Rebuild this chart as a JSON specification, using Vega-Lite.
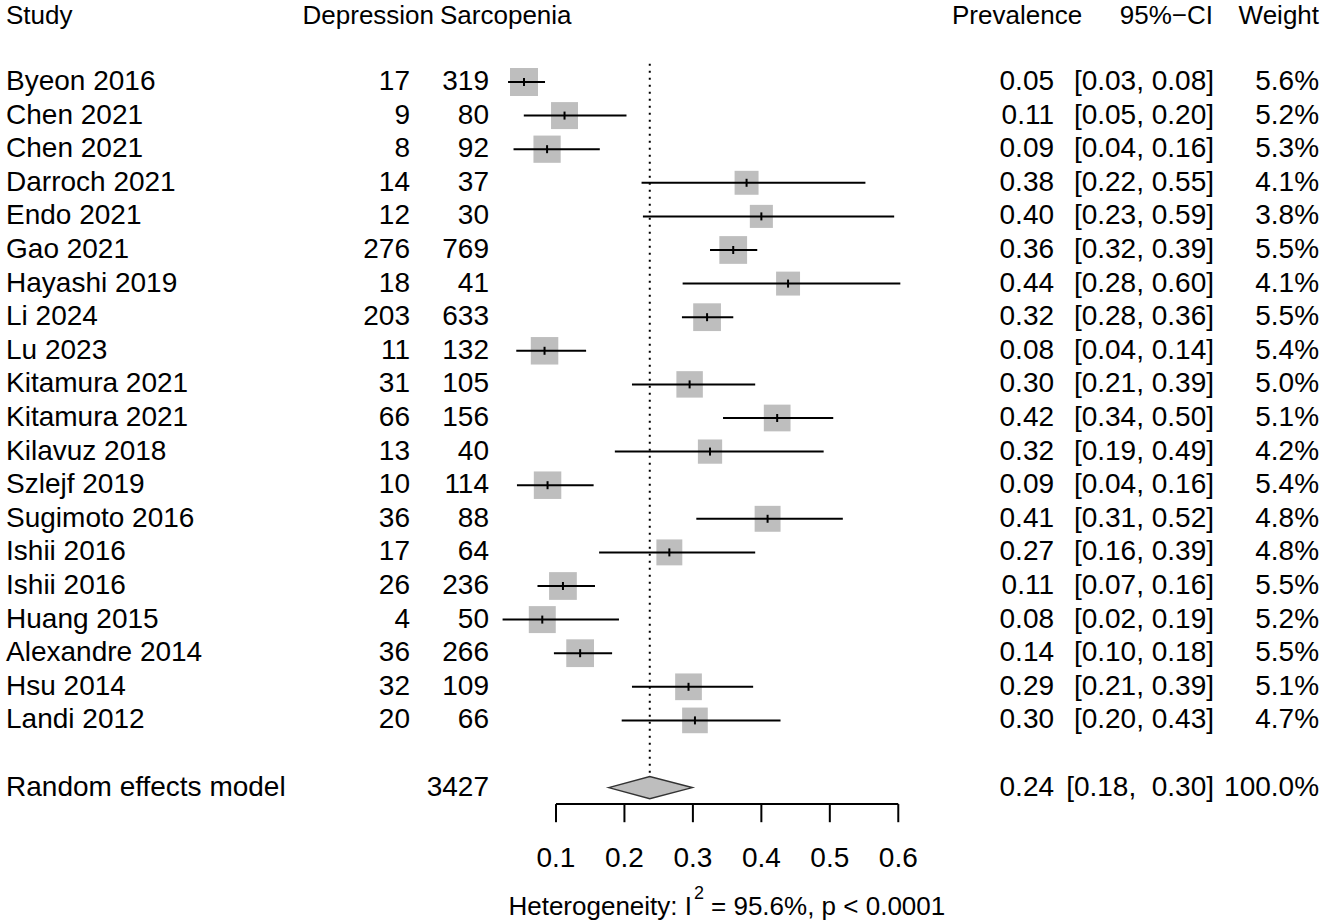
{
  "$schema": "https://vega.github.io/schema/vega-lite/v6.json",
  "width": 1325,
  "height": 804,
  "autosize": {"type": "none"},
  "padding": {"left": 0, "top": 0, "right": 0, "bottom": 119},
  "background": "white",
  "config": {
    "view": {"stroke": null},
    "text": {"font": "Liberation Sans", "fontSize": 28, "color": "black", "baseline": "middle"}
  },
  "datasets": {
    "studies": [
      {"row": 1, "study": "Byeon 2016", "dep": "17", "sarc": "319", "prev": "0.05", "ci": "[0.03, 0.08]", "wt": "5.6%", "est": 0.0533, "lo": 0.03, "hi": 0.084, "w": 5.6},
      {"row": 2, "study": "Chen 2021", "dep": "9", "sarc": "80", "prev": "0.11", "ci": "[0.05, 0.20]", "wt": "5.2%", "est": 0.1125, "lo": 0.053, "hi": 0.203, "w": 5.2},
      {"row": 3, "study": "Chen 2021", "dep": "8", "sarc": "92", "prev": "0.09", "ci": "[0.04, 0.16]", "wt": "5.3%", "est": 0.087, "lo": 0.038, "hi": 0.164, "w": 5.3},
      {"row": 4, "study": "Darroch 2021", "dep": "14", "sarc": "37", "prev": "0.38", "ci": "[0.22, 0.55]", "wt": "4.1%", "est": 0.3784, "lo": 0.225, "hi": 0.552, "w": 4.1},
      {"row": 5, "study": "Endo 2021", "dep": "12", "sarc": "30", "prev": "0.40", "ci": "[0.23, 0.59]", "wt": "3.8%", "est": 0.4, "lo": 0.227, "hi": 0.594, "w": 3.8},
      {"row": 6, "study": "Gao 2021", "dep": "276", "sarc": "769", "prev": "0.36", "ci": "[0.32, 0.39]", "wt": "5.5%", "est": 0.3589, "lo": 0.325, "hi": 0.394, "w": 5.5},
      {"row": 7, "study": "Hayashi 2019", "dep": "18", "sarc": "41", "prev": "0.44", "ci": "[0.28, 0.60]", "wt": "4.1%", "est": 0.439, "lo": 0.285, "hi": 0.603, "w": 4.1},
      {"row": 8, "study": "Li 2024", "dep": "203", "sarc": "633", "prev": "0.32", "ci": "[0.28, 0.36]", "wt": "5.5%", "est": 0.3207, "lo": 0.284, "hi": 0.359, "w": 5.5},
      {"row": 9, "study": "Lu 2023", "dep": "11", "sarc": "132", "prev": "0.08", "ci": "[0.04, 0.14]", "wt": "5.4%", "est": 0.0833, "lo": 0.042, "hi": 0.144, "w": 5.4},
      {"row": 10, "study": "Kitamura 2021", "dep": "31", "sarc": "105", "prev": "0.30", "ci": "[0.21, 0.39]", "wt": "5.0%", "est": 0.2952, "lo": 0.211, "hi": 0.391, "w": 5.0},
      {"row": 11, "study": "Kitamura 2021", "dep": "66", "sarc": "156", "prev": "0.42", "ci": "[0.34, 0.50]", "wt": "5.1%", "est": 0.4231, "lo": 0.344, "hi": 0.505, "w": 5.1},
      {"row": 12, "study": "Kilavuz 2018", "dep": "13", "sarc": "40", "prev": "0.32", "ci": "[0.19, 0.49]", "wt": "4.2%", "est": 0.325, "lo": 0.186, "hi": 0.491, "w": 4.2},
      {"row": 13, "study": "Szlejf 2019", "dep": "10", "sarc": "114", "prev": "0.09", "ci": "[0.04, 0.16]", "wt": "5.4%", "est": 0.0877, "lo": 0.043, "hi": 0.155, "w": 5.4},
      {"row": 14, "study": "Sugimoto 2016", "dep": "36", "sarc": "88", "prev": "0.41", "ci": "[0.31, 0.52]", "wt": "4.8%", "est": 0.4091, "lo": 0.305, "hi": 0.519, "w": 4.8},
      {"row": 15, "study": "Ishii 2016", "dep": "17", "sarc": "64", "prev": "0.27", "ci": "[0.16, 0.39]", "wt": "4.8%", "est": 0.2656, "lo": 0.163, "hi": 0.391, "w": 4.8},
      {"row": 16, "study": "Ishii 2016", "dep": "26", "sarc": "236", "prev": "0.11", "ci": "[0.07, 0.16]", "wt": "5.5%", "est": 0.1102, "lo": 0.073, "hi": 0.157, "w": 5.5},
      {"row": 17, "study": "Huang 2015", "dep": "4", "sarc": "50", "prev": "0.08", "ci": "[0.02, 0.19]", "wt": "5.2%", "est": 0.08, "lo": 0.022, "hi": 0.192, "w": 5.2},
      {"row": 18, "study": "Alexandre 2014", "dep": "36", "sarc": "266", "prev": "0.14", "ci": "[0.10, 0.18]", "wt": "5.5%", "est": 0.1353, "lo": 0.097, "hi": 0.182, "w": 5.5},
      {"row": 19, "study": "Hsu 2014", "dep": "32", "sarc": "109", "prev": "0.29", "ci": "[0.21, 0.39]", "wt": "5.1%", "est": 0.2936, "lo": 0.211, "hi": 0.388, "w": 5.1},
      {"row": 20, "study": "Landi 2012", "dep": "20", "sarc": "66", "prev": "0.30", "ci": "[0.20, 0.43]", "wt": "4.7%", "est": 0.303, "lo": 0.196, "hi": 0.428, "w": 4.7}
    ],
    "pooled": [
      {"row": 22, "study": "Random effects model", "sarc": "3427", "prev": "0.24", "ci": "[0.18, \u00a00.30]", "wt": "100.0%"}
    ],
    "header": [
      {"row": -0.96, "study": "Study", "dep": "Depression", "sarc": "Sarcopenia", "prev": "Prevalence", "ci": "95%\u2212CI", "wt": "Weight"}
    ],
    "diamond": [
      {"x": 0.177, "top": 22, "bot": 22},
      {"x": 0.237, "top": 21.67, "bot": 22.33},
      {"x": 0.299, "top": 22, "bot": 22}
    ],
    "refline": [{"x": 0.237, "y1": 0.46, "y2": 21.67}],
    "axisline": [{"a": 0.1, "b": 0.6, "y": 22.49}],
    "axisticks": [
      {"v": 0.1, "lab": "0.1", "y1": 22.49, "y2": 23.03, "ly": 24.11},
      {"v": 0.2, "lab": "0.2", "y1": 22.49, "y2": 23.03, "ly": 24.11},
      {"v": 0.3, "lab": "0.3", "y1": 22.49, "y2": 23.03, "ly": 24.11},
      {"v": 0.4, "lab": "0.4", "y1": 22.49, "y2": 23.03, "ly": 24.11},
      {"v": 0.5, "lab": "0.5", "y1": 22.49, "y2": 23.03, "ly": 24.11},
      {"v": 0.6, "lab": "0.6", "y1": 22.49, "y2": 23.03, "ly": 24.11}
    ],
    "het": [{"row": 25.55, "suprow": 25.17, "a": "Heterogeneity: I", "b": "2", "c": "= 95.6%, p < 0.0001"}]
  },
  "layer": [
    {
      "data": {"name": "axisline"},
      "mark": {"type": "rule", "color": "black", "strokeWidth": 2},
      "encoding": {
        "x": {"field": "a", "type": "quantitative", "scale": {"domain": [-0.7121, 1.2233], "nice": false, "zero": false}, "axis": null},
        "x2": {"field": "b"},
        "y": {"field": "y", "type": "quantitative", "scale": {"domain": [-1.44, 22.488], "nice": false, "zero": false, "reverse": true}, "axis": null}
      }
    },
    {
      "data": {"name": "axisticks"},
      "mark": {"type": "rule", "color": "black", "strokeWidth": 2},
      "encoding": {
        "x": {"field": "v", "type": "quantitative", "scale": {"domain": [-0.7121, 1.2233], "nice": false, "zero": false}, "axis": null},
        "y": {"field": "y1", "type": "quantitative", "scale": {"domain": [-1.44, 22.488], "nice": false, "zero": false, "reverse": true}, "axis": null},
        "y2": {"field": "y2"}
      }
    },
    {
      "data": {"name": "axisticks"},
      "mark": {"type": "text", "align": "center", "fontSize": 28},
      "encoding": {
        "x": {"field": "v", "type": "quantitative", "scale": {"domain": [-0.7121, 1.2233], "nice": false, "zero": false}, "axis": null},
        "y": {"field": "ly", "type": "quantitative", "scale": {"domain": [-1.44, 22.488], "nice": false, "zero": false, "reverse": true}, "axis": null},
        "text": {"field": "lab"}
      }
    },
    {
      "data": {"name": "refline"},
      "mark": {"type": "rule", "color": "black", "strokeWidth": 2, "strokeDash": [2, 5]},
      "encoding": {
        "x": {"field": "x", "type": "quantitative", "scale": {"domain": [-0.7121, 1.2233], "nice": false, "zero": false}, "axis": null},
        "y": {"field": "y1", "type": "quantitative", "scale": {"domain": [-1.44, 22.488], "nice": false, "zero": false, "reverse": true}, "axis": null},
        "y2": {"field": "y2"}
      }
    },
    {
      "data": {"name": "studies"},
      "mark": {"type": "point", "shape": "square", "filled": true, "color": "#bebebe", "opacity": 1, "strokeWidth": 0},
      "encoding": {
        "x": {"field": "est", "type": "quantitative", "scale": {"domain": [-0.7121, 1.2233], "nice": false, "zero": false}, "axis": null},
        "y": {"field": "row", "type": "quantitative", "scale": {"domain": [-1.44, 22.488], "nice": false, "zero": false, "reverse": true}, "axis": null},
        "size": {"field": "w", "type": "quantitative", "scale": {"type": "linear", "domain": [0, 10], "range": [0, 1400], "zero": true}, "legend": null}
      }
    },
    {
      "data": {"name": "studies"},
      "mark": {"type": "rule", "color": "black", "strokeWidth": 2},
      "encoding": {
        "x": {"field": "lo", "type": "quantitative", "scale": {"domain": [-0.7121, 1.2233], "nice": false, "zero": false}, "axis": null},
        "x2": {"field": "hi"},
        "y": {"field": "row", "type": "quantitative", "scale": {"domain": [-1.44, 22.488], "nice": false, "zero": false, "reverse": true}, "axis": null}
      }
    },
    {
      "data": {"name": "studies"},
      "mark": {"type": "tick", "orient": "vertical", "color": "black", "size": 8, "thickness": 2, "opacity": 1},
      "encoding": {
        "x": {"field": "est", "type": "quantitative", "scale": {"domain": [-0.7121, 1.2233], "nice": false, "zero": false}, "axis": null},
        "y": {"field": "row", "type": "quantitative", "scale": {"domain": [-1.44, 22.488], "nice": false, "zero": false, "reverse": true}, "axis": null}
      }
    },
    {
      "data": {"name": "diamond"},
      "mark": {"type": "area", "color": "#bebebe", "fill": "#bebebe", "stroke": "#333333", "strokeWidth": 1.5, "opacity": 1, "fillOpacity": 1},
      "encoding": {
        "x": {"field": "x", "type": "quantitative", "scale": {"domain": [-0.7121, 1.2233], "nice": false, "zero": false}, "axis": null},
        "y": {"field": "top", "type": "quantitative", "scale": {"domain": [-1.44, 22.488], "nice": false, "zero": false, "reverse": true}, "axis": null},
        "y2": {"field": "bot"}
      }
    },
    {
      "data": {"name": "studies"},
      "layer": [
        {"mark": {"type": "text", "align": "left"}, "encoding": {"x": {"datum": -0.7033, "type": "quantitative", "scale": {"domain": [-0.7121, 1.2233], "nice": false, "zero": false}, "axis": null}, "y": {"field": "row", "type": "quantitative", "scale": {"domain": [-1.44, 22.488], "nice": false, "zero": false, "reverse": true}, "axis": null}, "text": {"field": "study"}}},
        {"mark": {"type": "text", "align": "right"}, "encoding": {"x": {"datum": -0.1132, "type": "quantitative", "scale": {"domain": [-0.7121, 1.2233], "nice": false, "zero": false}, "axis": null}, "y": {"field": "row", "type": "quantitative", "scale": {"domain": [-1.44, 22.488], "nice": false, "zero": false, "reverse": true}, "axis": null}, "text": {"field": "dep"}}},
        {"mark": {"type": "text", "align": "right"}, "encoding": {"x": {"datum": 0.0022, "type": "quantitative", "scale": {"domain": [-0.7121, 1.2233], "nice": false, "zero": false}, "axis": null}, "y": {"field": "row", "type": "quantitative", "scale": {"domain": [-1.44, 22.488], "nice": false, "zero": false, "reverse": true}, "axis": null}, "text": {"field": "sarc"}}},
        {"mark": {"type": "text", "align": "right"}, "encoding": {"x": {"datum": 0.8275, "type": "quantitative", "scale": {"domain": [-0.7121, 1.2233], "nice": false, "zero": false}, "axis": null}, "y": {"field": "row", "type": "quantitative", "scale": {"domain": [-1.44, 22.488], "nice": false, "zero": false, "reverse": true}, "axis": null}, "text": {"field": "prev"}}},
        {"mark": {"type": "text", "align": "right"}, "encoding": {"x": {"datum": 1.0612, "type": "quantitative", "scale": {"domain": [-0.7121, 1.2233], "nice": false, "zero": false}, "axis": null}, "y": {"field": "row", "type": "quantitative", "scale": {"domain": [-1.44, 22.488], "nice": false, "zero": false, "reverse": true}, "axis": null}, "text": {"field": "ci"}}},
        {"mark": {"type": "text", "align": "right"}, "encoding": {"x": {"datum": 1.2146, "type": "quantitative", "scale": {"domain": [-0.7121, 1.2233], "nice": false, "zero": false}, "axis": null}, "y": {"field": "row", "type": "quantitative", "scale": {"domain": [-1.44, 22.488], "nice": false, "zero": false, "reverse": true}, "axis": null}, "text": {"field": "wt"}}}
      ]
    },
    {
      "data": {"name": "pooled"},
      "layer": [
        {"mark": {"type": "text", "align": "left"}, "encoding": {"x": {"datum": -0.7033, "type": "quantitative", "scale": {"domain": [-0.7121, 1.2233], "nice": false, "zero": false}, "axis": null}, "y": {"field": "row", "type": "quantitative", "scale": {"domain": [-1.44, 22.488], "nice": false, "zero": false, "reverse": true}, "axis": null}, "text": {"field": "study"}}},
        {"mark": {"type": "text", "align": "right"}, "encoding": {"x": {"datum": 0.0022, "type": "quantitative", "scale": {"domain": [-0.7121, 1.2233], "nice": false, "zero": false}, "axis": null}, "y": {"field": "row", "type": "quantitative", "scale": {"domain": [-1.44, 22.488], "nice": false, "zero": false, "reverse": true}, "axis": null}, "text": {"field": "sarc"}}},
        {"mark": {"type": "text", "align": "right"}, "encoding": {"x": {"datum": 0.8275, "type": "quantitative", "scale": {"domain": [-0.7121, 1.2233], "nice": false, "zero": false}, "axis": null}, "y": {"field": "row", "type": "quantitative", "scale": {"domain": [-1.44, 22.488], "nice": false, "zero": false, "reverse": true}, "axis": null}, "text": {"field": "prev"}}},
        {"mark": {"type": "text", "align": "right"}, "encoding": {"x": {"datum": 1.0612, "type": "quantitative", "scale": {"domain": [-0.7121, 1.2233], "nice": false, "zero": false}, "axis": null}, "y": {"field": "row", "type": "quantitative", "scale": {"domain": [-1.44, 22.488], "nice": false, "zero": false, "reverse": true}, "axis": null}, "text": {"field": "ci"}}},
        {"mark": {"type": "text", "align": "right"}, "encoding": {"x": {"datum": 1.2146, "type": "quantitative", "scale": {"domain": [-0.7121, 1.2233], "nice": false, "zero": false}, "axis": null}, "y": {"field": "row", "type": "quantitative", "scale": {"domain": [-1.44, 22.488], "nice": false, "zero": false, "reverse": true}, "axis": null}, "text": {"field": "wt"}}}
      ]
    },
    {
      "data": {"name": "header"},
      "layer": [
        {"mark": {"type": "text", "align": "left", "fontSize": 26}, "encoding": {"x": {"datum": -0.7033, "type": "quantitative", "scale": {"domain": [-0.7121, 1.2233], "nice": false, "zero": false}, "axis": null}, "y": {"field": "row", "type": "quantitative", "scale": {"domain": [-1.44, 22.488], "nice": false, "zero": false, "reverse": true}, "axis": null}, "text": {"field": "study"}}},
        {"mark": {"type": "text", "align": "right", "fontSize": 26}, "encoding": {"x": {"datum": -0.0781, "type": "quantitative", "scale": {"domain": [-0.7121, 1.2233], "nice": false, "zero": false}, "axis": null}, "y": {"field": "row", "type": "quantitative", "scale": {"domain": [-1.44, 22.488], "nice": false, "zero": false, "reverse": true}, "axis": null}, "text": {"field": "dep"}}},
        {"mark": {"type": "text", "align": "left", "fontSize": 26}, "encoding": {"x": {"datum": -0.0694, "type": "quantitative", "scale": {"domain": [-0.7121, 1.2233], "nice": false, "zero": false}, "axis": null}, "y": {"field": "row", "type": "quantitative", "scale": {"domain": [-1.44, 22.488], "nice": false, "zero": false, "reverse": true}, "axis": null}, "text": {"field": "sarc"}}},
        {"mark": {"type": "text", "align": "right", "fontSize": 26}, "encoding": {"x": {"datum": 0.8685, "type": "quantitative", "scale": {"domain": [-0.7121, 1.2233], "nice": false, "zero": false}, "axis": null}, "y": {"field": "row", "type": "quantitative", "scale": {"domain": [-1.44, 22.488], "nice": false, "zero": false, "reverse": true}, "axis": null}, "text": {"field": "prev"}}},
        {"mark": {"type": "text", "align": "right", "fontSize": 26}, "encoding": {"x": {"datum": 1.0597, "type": "quantitative", "scale": {"domain": [-0.7121, 1.2233], "nice": false, "zero": false}, "axis": null}, "y": {"field": "row", "type": "quantitative", "scale": {"domain": [-1.44, 22.488], "nice": false, "zero": false, "reverse": true}, "axis": null}, "text": {"field": "ci"}}},
        {"mark": {"type": "text", "align": "right", "fontSize": 26}, "encoding": {"x": {"datum": 1.2146, "type": "quantitative", "scale": {"domain": [-0.7121, 1.2233], "nice": false, "zero": false}, "axis": null}, "y": {"field": "row", "type": "quantitative", "scale": {"domain": [-1.44, 22.488], "nice": false, "zero": false, "reverse": true}, "axis": null}, "text": {"field": "wt"}}}
      ]
    },
    {
      "data": {"name": "het"},
      "layer": [
        {"mark": {"type": "text", "align": "right", "fontSize": 26}, "encoding": {"x": {"datum": 0.2987, "type": "quantitative", "scale": {"domain": [-0.7121, 1.2233], "nice": false, "zero": false}, "axis": null}, "y": {"field": "row", "type": "quantitative", "scale": {"domain": [-1.44, 22.488], "nice": false, "zero": false, "reverse": true}, "axis": null}, "text": {"field": "a"}}},
        {"mark": {"type": "text", "align": "left", "fontSize": 18}, "encoding": {"x": {"datum": 0.3016, "type": "quantitative", "scale": {"domain": [-0.7121, 1.2233], "nice": false, "zero": false}, "axis": null}, "y": {"field": "suprow", "type": "quantitative", "scale": {"domain": [-1.44, 22.488], "nice": false, "zero": false, "reverse": true}, "axis": null}, "text": {"field": "b"}}},
        {"mark": {"type": "text", "align": "left", "fontSize": 26}, "encoding": {"x": {"datum": 0.3265, "type": "quantitative", "scale": {"domain": [-0.7121, 1.2233], "nice": false, "zero": false}, "axis": null}, "y": {"field": "row", "type": "quantitative", "scale": {"domain": [-1.44, 22.488], "nice": false, "zero": false, "reverse": true}, "axis": null}, "text": {"field": "c"}}}
      ]
    }
  ]
}
